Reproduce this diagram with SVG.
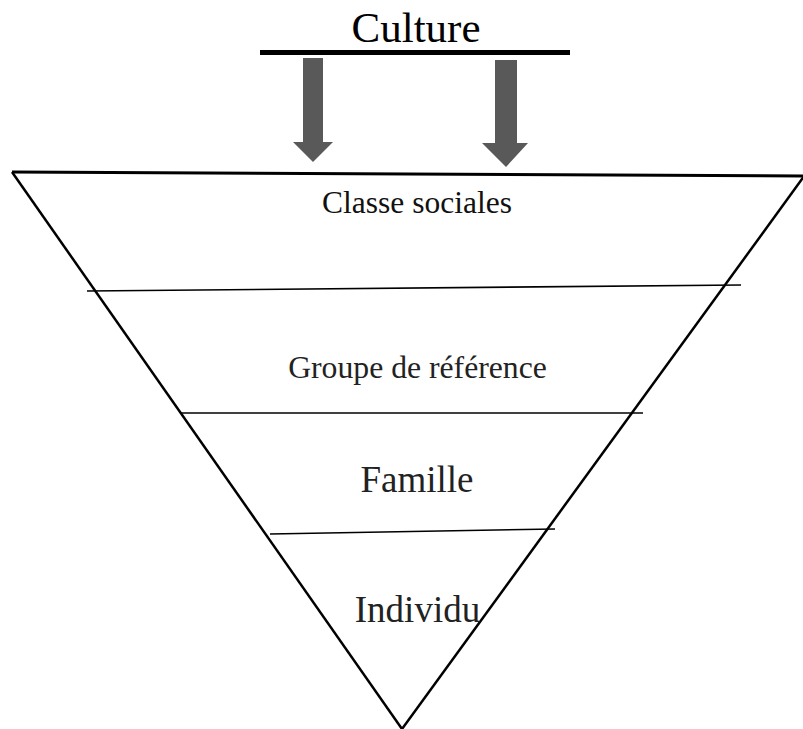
<svg xmlns="http://www.w3.org/2000/svg" width="803" height="729" viewBox="0 0 803 729">
  <style>
    .lbl { font-family: "Liberation Serif", "Times New Roman", serif; text-anchor: middle; fill: #222; }
    .edge { stroke: #000; fill: none; }
    .arrow { fill: #595959; }
  </style>
  <rect width="803" height="729" fill="#fff"/>

  <!-- Culture header with its bar -->
  <g id="culture">
    <text class="lbl" x="416" y="42" font-size="43" fill="#000" style="fill:#000">Culture</text>
    <rect x="260" y="50" width="310" height="5" fill="#000"/>
  </g>

  <!-- Downward influence arrows -->
  <g id="connectors">
    <polygon class="arrow" points="303,58 323,58 323,142 333,142 313,162 293,142 303,142"/>
    <polygon class="arrow" points="495,60 517,60 517,143 528,143 506,167 482,143 495,143"/>
  </g>

  <!-- Inverted triangle outline -->
  <g id="pyramid">
    <line class="edge" x1="12" y1="172" x2="803" y2="176" stroke-width="3"/>
    <line class="edge" x1="12" y1="172" x2="402" y2="729" stroke-width="2.5"/>
    <line class="edge" x1="805" y1="175" x2="402" y2="729" stroke-width="2.5"/>
    <line class="edge" x1="87" y1="291" x2="741" y2="285" stroke-width="1.6"/>
    <line class="edge" x1="180" y1="413" x2="643" y2="413" stroke-width="1.4"/>
    <line class="edge" x1="270" y1="534" x2="555" y2="529" stroke-width="1.6"/>
  </g>

  <g id="classes-sociales">
    <text class="lbl" x="417" y="213" font-size="31.5" style="fill:#111">Classe sociales</text>
  </g>
  <g id="groupe-reference">
    <text class="lbl" x="417.5" y="378" font-size="31.7">Groupe de référence</text>
  </g>
  <g id="famille">
    <text class="lbl" x="417" y="492" font-size="37">Famille</text>
  </g>
  <g id="individu">
    <text class="lbl" x="417.5" y="622" font-size="37">Individu</text>
  </g>
</svg>
